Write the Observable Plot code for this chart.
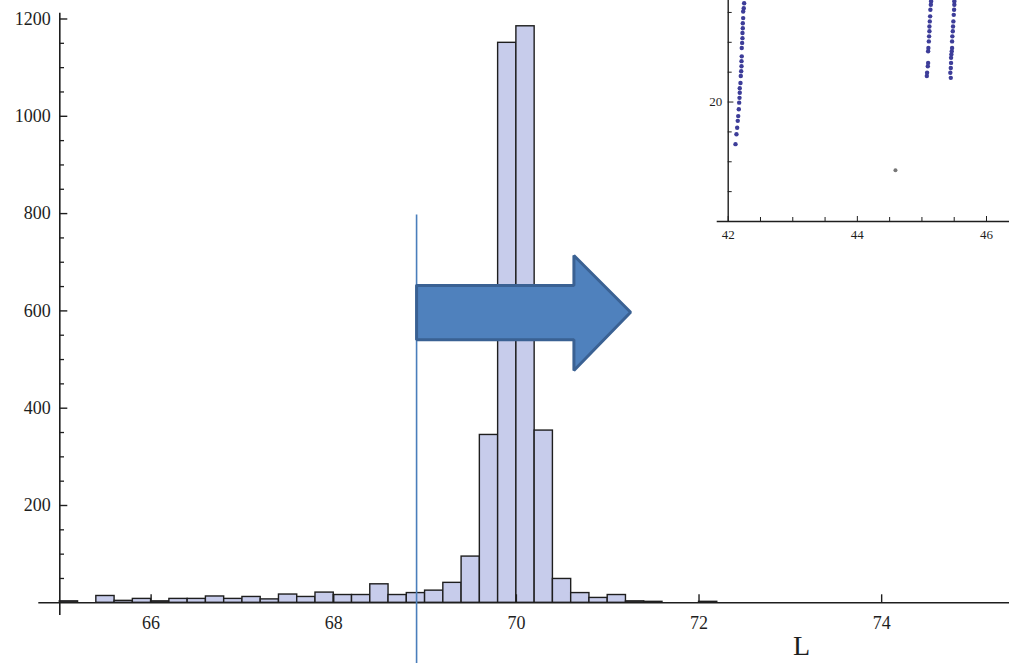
<!DOCTYPE html>
<html><head><meta charset="utf-8">
<script src="https://cdn.jsdelivr.net/npm/d3@7"></script>
<script src="https://cdn.jsdelivr.net/npm/@observablehq/plot@0.6"></script>
<style>
html,body{margin:0;padding:0;background:#fff;}
#wrap{position:relative;width:1009px;height:663px;overflow:hidden;background:#fff;}
#main{position:absolute;left:0;top:0;}
#inset{position:absolute;left:690px;top:0;width:319px;height:246px;}
svg{display:block;}
</style></head><body>
<div id="wrap"><div id="main"></div><div id="inset"></div></div>
<script>
// ---- Main histogram data ----
const binStart = [65.0,65.2,65.4,65.6,65.8,66.0,66.2,66.4,66.6,66.8,67.0,67.2,67.4,67.6,67.8,68.0,68.2,68.4,68.6,68.8,69.0,69.2,69.4,69.6,69.8,70.0,70.2,70.4,70.6,70.8,71.0,71.2,71.4,71.6,71.8,72.0];
const counts   = [3,0,14,4,8,3,8,8,13,8,12,7,17,12,21,16,16,38,16,20,25,41,95,345,1151,1185,354,49,20,10,16,3,2,0,0,2];
const binWidth = 0.2;
const xTicks = [66,68,70,72,74];
const yTicks = [200,400,600,800,1000,1200];
const yMinorTicks = [50,100,150,250,300,350,450,500,550,650,700,750,850,900,950,1050,1100,1150];
const markerX = 68.907;
const arrowX = [68.907,70.63,70.63,71.251,70.63,70.63,68.907,68.907];
const arrowY = [652.2,652.2,713.9,597.3,477.5,540.6,540.6,652.2];
const cornerLabel = "L";

// ---- Inset scatter data ----
const s1x = [42.113,42.128,42.139,42.148,42.155,42.164,42.170,42.175,42.179,42.179,42.190,42.195,42.201,42.206,42.206,42.210,42.210,42.216,42.221,42.221,42.226,42.226,42.232,42.232,42.241,42.247];
const s1y = [18.59,18.92,19.14,19.37,19.53,19.76,19.98,20.14,20.31,20.46,20.64,20.87,21.03,21.20,21.37,21.53,21.81,21.98,22.14,22.31,22.47,22.64,22.81,23.03,23.14,23.31];
const s2x = [45.076,45.080,45.091,45.096,45.096,45.100,45.107,45.111,45.116,45.116,45.122,45.127,45.131,45.138,45.142];
const s2y = [20.87,20.98,21.20,21.31,21.70,21.81,22.03,22.20,22.37,22.53,22.70,22.87,23.09,23.26,23.37];
const s3x = [45.447,45.440,45.447,45.451,45.451,45.456,45.462,45.467,45.467,45.471,45.478,45.482,45.487,45.493,45.498,45.502,45.502];
const s3y = [20.81,20.98,21.14,21.31,21.48,21.59,21.70,21.81,22.03,22.20,22.37,22.53,22.70,22.92,23.09,23.26,23.37];
const outlierX = [44.59];
const outlierY = [17.72];
const insetXTicks = [42,44,46];
const insetXMinor = [42.5,43,43.5,44.5,45,45.5];
const insetYTicks = [20];
const insetYMinor = [17,18,19,21,22,23];

const bars = binStart.map((s,i)=>({x1:s, x2:s+binWidth, n:counts[i]})).filter(d=>d.n>0);
const ink = "#1e1e1e";
const font = "'Liberation Serif', 'DejaVu Serif', serif";
const plain = d => String(d);

const main = Plot.plot({
  width: 1009, height: 663,
  marginLeft: 59.3, marginRight: 0, marginTop: 0, marginBottom: 60.7,
  x: {domain: [65, 75.4]},
  y: {domain: [0, 1238]},
  style: {fontFamily: font, background: "transparent", overflow: "visible"},
  marks: [
    Plot.rectY(bars, {x1:"x1", x2:"x2", y1:0, y2:"n", fill:"#c7cceb", stroke:ink, strokeWidth:1.4}),
    Plot.ruleX([65], {y1:-26, y2:1212, stroke:ink, strokeWidth:1.6}),
    Plot.ruleY([0], {x1:64.77, x2:75.4, stroke:ink, strokeWidth:1.6}),
    Plot.axisY(yMinorTicks, {tickSize:-4.7, fill:"none", stroke:ink, strokeWidth:1.3, label:null}),
    Plot.axisY(yTicks, {tickSize:-8, tickPadding:17, fontSize:18, tickFormat:plain, fill:ink, stroke:ink, strokeWidth:1.4, label:null}),
    Plot.axisX(xTicks, {tickSize:-8, tickPadding:21, fontSize:18, tickFormat:plain, fill:ink, stroke:ink, strokeWidth:1.4, label:null}),
    Plot.ruleX([markerX], {y1:-125, y2:797, stroke:"#4a7ebb", strokeWidth:1.6}),
    Plot.line(arrowX.map((x,i)=>({x, y:arrowY[i]})), {x:"x", y:"y", fill:"#4f81bd", stroke:"#3a6193", strokeWidth:3, strokeLinejoin:"miter"}),
    Plot.text([cornerLabel], {x:73.03, y:-108, text:d=>d, textAnchor:"start", lineAnchor:"bottom", fontSize:28, fill:ink, fontFamily:font})
  ]
});
document.getElementById("main").append(main);

const pts = (xs, ys) => xs.map((x,i)=>({x, y:ys[i]}));
const inset = Plot.plot({
  width: 319, height: 246,
  marginLeft: 37.7, marginRight: 23, marginTop: 0, marginBottom: 25,
  x: {domain: [42, 46]},
  y: {domain: [16, 23.4]},
  style: {fontFamily: font, background: "transparent"},
  marks: [
    Plot.frame({fill:"#fff", stroke:"none", insetBottom:-19}),
    Plot.ruleX([42], {y1:16, y2:23.5, stroke:ink, strokeWidth:1.4}),
    Plot.ruleY([16], {x1:41.83, x2:46.4, stroke:ink, strokeWidth:1.4}),
    Plot.axisY(insetYMinor, {tickSize:-4, fill:"none", stroke:ink, label:null}),
    Plot.axisY(insetYTicks, {tickSize:-5.7, tickPadding:11.7, fontSize:13, tickFormat:plain, fill:ink, stroke:ink, label:null}),
    Plot.axisX(insetXMinor, {tickSize:-4, fill:"none", stroke:ink, label:null}),
    Plot.axisX(insetXTicks, {tickSize:-5, tickPadding:13, fontSize:13, tickFormat:plain, fill:ink, stroke:ink, label:null}),
    Plot.dot(pts(s1x,s1y), {x:"x", y:"y", r:2.2, fill:"#3d3d99"}),
    Plot.dot(pts(s2x,s2y), {x:"x", y:"y", r:2.2, fill:"#3d3d99"}),
    Plot.dot(pts(s3x,s3y), {x:"x", y:"y", r:2.2, fill:"#3d3d99"}),
    Plot.dot(pts(outlierX,outlierY), {x:"x", y:"y", r:2, fill:"#777"})
  ]
});
document.getElementById("inset").append(inset);
</script>
</body></html>
